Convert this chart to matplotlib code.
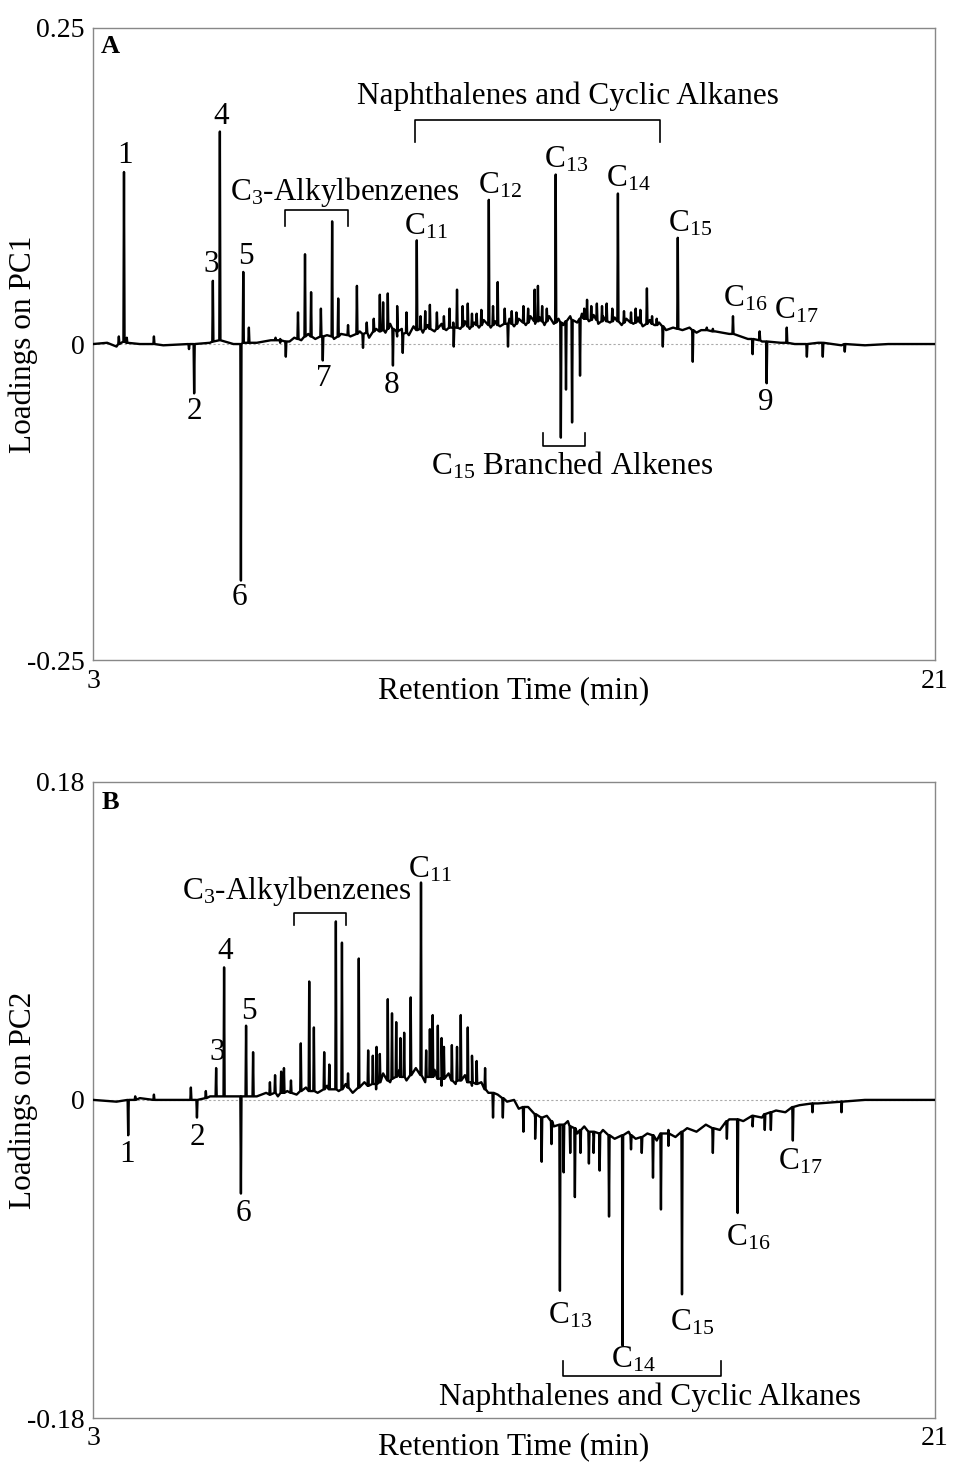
import numpy as np
import matplotlib
matplotlib.use("Agg")
import matplotlib.pyplot as plt

plt.rcParams['font.family'] = ['Liberation Serif', 'DejaVu Serif']
plt.rcParams['mathtext.fontset'] = 'custom'
plt.rcParams['mathtext.rm'] = 'Liberation Serif'
plt.rcParams['mathtext.it'] = 'Liberation Serif:italic'

# ---- Panel A (PC1) ----
# baseline knots (retention time, loading)
a_base_t = [3.0, 3.3, 3.5, 4.0, 4.5, 5.0, 5.5, 6.0, 6.5, 6.8, 7.0, 7.2, 7.3, 7.45,
            7.6, 7.75, 8.0, 8.15, 8.3, 8.5, 8.7, 8.9, 9.05, 9.25, 9.35, 9.5, 9.6,
            9.75, 9.85, 10.05, 10.15, 10.3, 10.45, 10.55, 10.7, 10.85, 10.95, 11.05,
            11.15, 11.25, 11.35, 11.5, 11.6, 11.7, 11.9, 12.0, 12.1, 12.25, 12.35,
            12.45, 12.55, 12.65, 12.75, 12.85, 12.95, 13.05, 13.2, 13.35, 13.45,
            13.6, 13.7, 13.8, 13.9, 14.05, 14.15, 14.3, 14.4, 14.55, 14.65, 14.75,
            14.9, 15.0, 15.1, 15.25, 15.4, 15.6, 15.75, 15.9, 16.0, 16.3, 16.6, 17.0,
            17.3, 17.7, 18.0, 18.5, 19.0, 19.5, 20.0, 21.0]
a_base_y = [0.0, 0.001, -0.002, 0.0, -0.001, 0.0, 0.001, 0.0, 0.001, 0.003, 0.001,
            0.002, 0.005, 0.003, 0.008, 0.004, 0.007, 0.004, 0.008, 0.006, 0.010,
            0.005, 0.012, 0.009, 0.016, 0.006, 0.012, 0.007, 0.014, 0.009, 0.015,
            0.010, 0.016, 0.011, 0.017, 0.012, 0.018, 0.012, 0.017, 0.013, 0.019,
            0.013, 0.018, 0.014, 0.020, 0.014, 0.020, 0.015, 0.022, 0.016, 0.021,
            0.015, 0.022, 0.016, 0.020, 0.015, 0.022, 0.017, 0.024, 0.018, 0.023,
            0.016, 0.022, 0.017, 0.021, 0.015, 0.020, 0.016, 0.021, 0.014, 0.019,
            0.015, 0.017, 0.011, 0.013, 0.011, 0.013, 0.009, 0.011, 0.010, 0.008,
            0.004, 0.002, 0.001, 0.0, 0.001, -0.001, -0.001, 0.0, 0.0]
# peaks: position, tip value, foot value
a_peak_t = [3.55, 3.66, 3.72, 4.30, 5.05, 5.16, 5.56, 5.71, 6.16, 6.21, 6.33, 6.90,
            7.00, 7.12, 7.38, 7.53, 7.66, 7.87, 7.91, 8.11, 8.24, 8.45, 8.64, 8.77,
            8.85, 9.00, 9.13, 9.20, 9.30, 9.41, 9.50, 9.62, 9.70, 9.92, 10.00, 10.10,
            10.20, 10.35, 10.50, 10.62, 10.71, 10.78, 10.90, 11.01, 11.10, 11.20,
            11.30, 11.46, 11.55, 11.65, 11.80, 11.87, 11.95, 12.05, 12.20, 12.30,
            12.44, 12.51, 12.60, 12.70, 12.89, 13.00, 13.11, 13.24, 13.41, 13.50,
            13.56, 13.65, 13.77, 13.88, 13.98, 14.10, 14.22, 14.35, 14.50, 14.60,
            14.70, 14.84, 14.95, 15.05, 15.18, 15.50, 15.82, 16.12, 16.25, 16.68,
            17.10, 17.25, 17.40, 17.83, 18.26, 18.60, 19.07]
a_peak_top = [0.006, 0.136, 0.005, 0.006, -0.004, -0.039, 0.050, 0.168, -0.187, 0.057,
              0.013, 0.005, 0.004, -0.010, 0.025, 0.071, 0.041, 0.028, -0.013, 0.097,
              0.036, 0.015, 0.046, -0.003, 0.017, 0.020, 0.039, 0.033, 0.040, -0.017,
              0.030, -0.007, 0.025, 0.082, 0.022, 0.026, 0.031, 0.025, 0.022, 0.028,
              -0.002, 0.043, 0.030, 0.032, 0.024, 0.024, 0.027, 0.114, 0.030, 0.049,
              0.028, -0.002, 0.026, 0.025, 0.030, 0.028, 0.043, 0.046, 0.030, 0.028,
              0.134, -0.074, -0.036, -0.062, -0.025, 0.028, 0.035, 0.030, 0.032,
              0.030, 0.032, 0.028, 0.119, 0.026, 0.025, 0.028, 0.027, 0.044, 0.022,
              0.020, -0.002, 0.084, -0.014, 0.013, 0.012, 0.022, -0.008, 0.010,
              -0.031, 0.013, -0.010, -0.010, -0.006]
a_peak_foot = [0.0, 0.002, 0.001, 0.0, 0.0, 0.0, 0.002, 0.003, 0.0, 0.001, 0.001, 0.003,
               0.003, 0.002, 0.004, 0.006, 0.006, 0.006, 0.006, 0.006, 0.006, 0.007,
               0.008, 0.008, 0.009, 0.010, 0.010, 0.011, 0.012, 0.012, 0.010, 0.008,
               0.009, 0.011, 0.012, 0.012, 0.012, 0.012, 0.012, 0.013, 0.013, 0.013,
               0.014, 0.014, 0.014, 0.015, 0.015, 0.015, 0.015, 0.015, 0.016, 0.016,
               0.016, 0.016, 0.017, 0.017, 0.018, 0.018, 0.018, 0.018, 0.017, 0.017,
               0.018, 0.019, 0.020, 0.020, 0.020, 0.019, 0.019, 0.018, 0.018, 0.018,
               0.018, 0.017, 0.017, 0.017, 0.017, 0.016, 0.016, 0.015, 0.014, 0.012,
               0.011, 0.011, 0.010, 0.008, 0.004, 0.003, 0.002, 0.001, 0.0, 0.001,
               0.0]

# ---- Panel B (PC2) ----
b_base_t = [3.0, 3.5, 4.0, 5.0, 5.5, 6.0, 6.5, 6.7, 6.95, 7.15, 7.35, 7.55, 7.8, 8.0,
            8.25, 8.4, 8.55, 8.8, 9.05, 9.2, 9.35, 9.55, 9.7, 9.9, 10.1, 10.3, 10.45,
            10.6, 10.75, 10.95, 11.1, 11.3, 11.45, 11.65, 11.85, 12.0, 12.1, 12.3,
            12.45, 12.7, 12.85, 13.15, 13.35, 13.5, 13.7, 13.9, 14.15, 14.45, 14.6,
            14.85, 15.05, 15.3, 15.45, 15.7, 15.9, 16.1, 16.4, 16.6, 16.9, 17.1,
            17.3, 17.6, 17.8, 18.1, 18.5, 19.0, 19.5, 21.0]
b_base_y = [0.0, -0.001, 0.001, 0.0, 0.002, 0.002, 0.002, 0.004, 0.002, 0.005, 0.003,
            0.007, 0.004, 0.008, 0.005, 0.009, 0.004, 0.010, 0.006, 0.015, 0.010,
            0.017, 0.011, 0.018, 0.010, 0.017, 0.008, 0.015, 0.009, 0.014, 0.008,
            0.010, 0.004, 0.003, -0.001, 0.0, -0.005, -0.004, -0.010, -0.009, -0.015,
            -0.012, -0.019, -0.015, -0.021, -0.017, -0.022, -0.018, -0.022, -0.019,
            -0.023, -0.017, -0.021, -0.016, -0.018, -0.014, -0.017, -0.011, -0.012,
            -0.009, -0.010, -0.006, -0.007, -0.003, -0.002, -0.001, 0.0, 0.0]
b_peak_t = [3.75, 3.90, 4.30, 5.09, 5.22, 5.41, 5.63, 5.80, 6.16, 6.27, 6.42, 6.78,
            6.89, 7.02, 7.08, 7.23, 7.44, 7.62, 7.72, 7.94, 8.05, 8.19, 8.32, 8.45,
            8.68, 8.88, 8.98, 9.06, 9.13, 9.30, 9.39, 9.48, 9.57, 9.65, 9.79, 10.01,
            10.12, 10.20, 10.26, 10.37, 10.45, 10.50, 10.67, 10.78, 10.86, 11.01,
            11.10, 11.20, 11.38, 11.55, 11.76, 12.20, 12.45, 12.59, 12.80, 12.98,
            13.06, 13.20, 13.30, 13.42, 13.60, 13.70, 13.83, 14.03, 14.32, 14.50,
            14.73, 14.97, 15.14, 15.30, 15.59, 16.25, 16.55, 16.78, 17.10, 17.36,
            17.49, 17.96, 18.38, 19.00]
b_peak_top = [-0.020, 0.002, 0.003, 0.007, -0.010, 0.005, 0.018, 0.075, -0.053, 0.042,
              0.027, 0.010, 0.014, 0.016, 0.018, 0.011, 0.032, 0.067, 0.041, 0.027,
              0.020, 0.101, 0.089, 0.015, 0.080, 0.028, 0.025, 0.030, 0.026, 0.057,
              0.049, 0.044, 0.035, 0.038, 0.058, 0.123, 0.028, 0.040, 0.048, 0.042,
              0.035, 0.030, 0.031, 0.030, 0.048, 0.041, 0.025, 0.022, 0.018, -0.010,
              -0.010, -0.018, -0.022, -0.035, -0.025, -0.108, -0.041, -0.030, -0.055,
              -0.030, -0.036, -0.030, -0.040, -0.066, -0.139, -0.028, -0.030, -0.044,
              -0.062, -0.026, -0.110, -0.030, -0.022, -0.064, -0.015, -0.017, -0.017,
              -0.023, -0.007, -0.007]
b_peak_foot = [0.0, 0.0, 0.0, 0.0, 0.0, 0.001, 0.002, 0.002, 0.002, 0.002, 0.002,
               0.003, 0.004, 0.004, 0.004, 0.004, 0.005, 0.005, 0.005, 0.006, 0.006,
               0.006, 0.006, 0.007, 0.007, 0.008, 0.009, 0.009, 0.010, 0.011, 0.012,
               0.013, 0.013, 0.013, 0.014, 0.014, 0.013, 0.013, 0.013, 0.012, 0.012,
               0.012, 0.011, 0.011, 0.011, 0.010, 0.010, 0.009, 0.006, 0.004, 0.001,
               -0.004, -0.008, -0.010, -0.012, -0.014, -0.014, -0.015, -0.016, -0.017,
               -0.018, -0.018, -0.019, -0.020, -0.020, -0.020, -0.021, -0.020, -0.019,
               -0.019, -0.018, -0.016, -0.012, -0.011, -0.009, -0.008, -0.007, -0.004,
               -0.002, -0.001]

assert len(a_base_t) == len(a_base_y)
assert len(b_base_t) == len(b_base_y)
assert len(a_peak_t) == len(a_peak_top) == len(a_peak_foot)
assert len(b_peak_t) == len(b_peak_top) == len(b_peak_foot)


def build_trace(base_t, base_y, peak_t, peak_top, peak_foot, hw=0.012):
    t = list(base_t)
    y = list(base_y)
    for pt, top, foot in zip(peak_t, peak_top, peak_foot):
        t += [pt - hw, pt, pt + hw]
        y += [foot, top, foot]
    order = np.argsort(t, kind='stable')
    return np.array(t)[order], np.array(y)[order]


def style_axes(ax, ylim, ylabel, xlab_y):
    ax.set_xlim(3, 21)
    ax.set_ylim(-ylim, ylim)
    ax.set_xticks([3, 21])
    ax.set_xticklabels(['3', '21'])
    ax.set_yticks([-ylim, 0, ylim])
    ax.set_yticklabels(['-%g' % ylim, '0', '%g' % ylim])
    ax.tick_params(length=0, labelsize=20, pad=6)
    ax.axhline(0, color='#aaaaaa', lw=0.8, ls=(0, (2, 2)), zorder=1)
    for sp in ax.spines.values():
        sp.set_color('#888888')
        sp.set_linewidth(1.0)
    ax.set_xlabel('Retention Time (min)', fontsize=22.5)
    ax.xaxis.set_label_coords(0.5, xlab_y)
    ax.set_ylabel(ylabel, fontsize=22.5)
    ax.yaxis.set_label_coords(-0.066, 0.5)


def bracket(ax, x0, x1, y, ytick):
    ax.plot([x0, x0, x1, x1], [ytick, y, y, ytick], color='black', lw=1.2)


fig = plt.figure(figsize=(9.6, 14.64), dpi=100)
axA = fig.add_axes([0.097, 0.549, 0.877, 0.432])
axB = fig.add_axes([0.097, 0.0314, 0.877, 0.4346])

ta, ya = build_trace(a_base_t, a_base_y, a_peak_t, a_peak_top, a_peak_foot)
axA.plot(ta, ya, color='black', lw=1.7, zorder=3)
style_axes(axA, 0.25, 'Loadings on PC1', -0.026)

tb, yb = build_trace(b_base_t, b_base_y, b_peak_t, b_peak_top, b_peak_foot)
axB.plot(tb, yb, color='black', lw=1.7, zorder=3)
style_axes(axB, 0.18, 'Loadings on PC2', -0.023)

fs = 22.5
kw = dict(ha='center', va='center', fontsize=fs)

# Panel A labels
axA.text(3.36, 0.235, 'A', fontsize=19, fontweight='bold', ha='center', va='center')
for s, x, y in [('1', 3.68, 0.149), ('4', 5.74, 0.180), ('3', 5.52, 0.0625),
                ('5', 6.27, 0.069), ('2', 5.16, -0.053), ('6', 6.12, -0.200),
                ('7', 7.94, -0.027), ('8', 9.37, -0.033), ('9', 17.38, -0.046)]:
    axA.text(x, y, s, **kw)
for s, x, y in [('11', 10.12, 0.093), ('12', 11.70, 0.125), ('13', 13.11, 0.146),
                ('14', 14.45, 0.131), ('15', 15.76, 0.095), ('16', 16.95, 0.036),
                ('17', 18.04, 0.026)]:
    axA.text(x, y, r'C$_{\mathrm{%s}}$' % s, **kw)
axA.text(13.15, 0.196, 'Naphthalenes and Cyclic Alkanes', **kw)
bracket(axA, 9.88, 15.12, 0.177, 0.160)
axA.text(8.38, 0.120, r'C$_{\mathrm{3}}$-Alkylbenzenes', **kw)
bracket(axA, 7.10, 8.45, 0.106, 0.093)
axA.text(13.24, -0.0965, r'C$_{\mathrm{15}}$ Branched Alkenes', **kw)
bracket(axA, 12.62, 13.51, -0.081, -0.070)

# Panel B labels
axB.text(3.36, 0.168, 'B', fontsize=19, fontweight='bold', ha='center', va='center')
for s, x, y in [('1', 3.73, -0.031), ('2', 5.22, -0.021), ('6', 6.21, -0.064),
                ('3', 5.65, 0.027), ('4', 5.82, 0.084), ('5', 6.33, 0.050)]:
    axB.text(x, y, s, **kw)
for s, x, y in [('11', 10.20, 0.130), ('13', 13.19, -0.122), ('14', 14.54, -0.147),
                ('15', 15.80, -0.126), ('16', 17.00, -0.078), ('17', 18.11, -0.035)]:
    axB.text(x, y, r'C$_{\mathrm{%s}}$' % s, **kw)
axB.text(7.36, 0.118, r'C$_{\mathrm{3}}$-Alkylbenzenes', **kw)
bracket(axB, 7.29, 8.41, 0.106, 0.099)
axB.text(14.90, -0.168, 'Naphthalenes and Cyclic Alkanes', **kw)
bracket(axB, 13.04, 16.42, -0.156, -0.148)

fig.savefig('out.png', dpi=100)
